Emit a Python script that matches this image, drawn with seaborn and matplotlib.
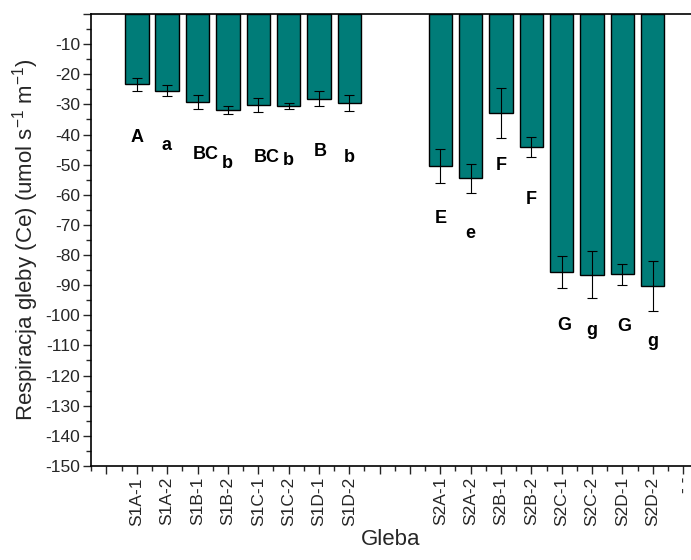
import numpy as np
import pandas as pd
import matplotlib
matplotlib.use("Agg")
import matplotlib.pyplot as plt
import seaborn as sns
from matplotlib.ticker import MultipleLocator

# Soil respiration per sample (negative = uptake), with standard deviations
samples = ["S1A-1", "S1A-2", "S1B-1", "S1B-2", "S1C-1", "S1C-2", "S1D-1", "S1D-2",
           "S2A-1", "S2A-2", "S2B-1", "S2B-2", "S2C-1", "S2C-2", "S2D-1", "S2D-2"]
respiration = [-23.4, -25.5, -29.3, -31.9, -30.2, -30.6, -28.1, -29.5,
               -50.4, -54.6, -33.0, -44.1, -85.6, -86.6, -86.4, -90.3]
std_dev = [2.0, 1.8, 2.3, 1.4, 2.4, 1.0, 2.5, 2.7,
           5.7, 4.7, 8.3, 3.4, 5.2, 7.8, 3.5, 8.4]
# slot on the category axis for every sample (gaps separate the two soils)
slots = [1, 2, 3, 4, 5, 6, 7, 8, 11, 12, 13, 14, 15, 16, 17, 18]

# full tick row of the category axis
tick_slots = list(range(20))
tick_labels = ["", "S1A-1", "S1A-2", "S1B-1", "S1B-2", "S1C-1", "S1C-2", "S1D-1", "S1D-2",
               "", "", "S2A-1", "S2A-2", "S2B-1", "S2B-2", "S2C-1", "S2C-2", "S2D-1", "S2D-2", "- -"]

# significance letters and where they sit
letters = ["A", "a", "BC", "b", "BC", "b", "B", "b",
           "E", "e", "F", "F", "G", "g", "G", "g"]
letter_x = [1.0, 1.99, 3.27, 3.97, 5.28, 5.98, 7.03, 7.99,
            11.0, 11.97, 13.0, 14.0, 15.07, 16.0, 17.05, 18.0]
letter_y = [-40.9, -43.5, -46.8, -49.5, -47.5, -48.5, -45.8, -47.5,
            -67.8, -72.8, -50.2, -61.5, -103.3, -105.0, -103.7, -108.6]

sns.set_style("ticks")
plt.rcParams["font.family"] = ["Liberation Sans", "DejaVu Sans"]
plt.rcParams["mathtext.fontset"] = "custom"
plt.rcParams["mathtext.rm"] = "Liberation Sans"
plt.rcParams["mathtext.it"] = "Liberation Sans:italic"
plt.rcParams["axes.unicode_minus"] = False

df = pd.DataFrame({"slot": slots, "sample": samples,
                   "resp": respiration, "sd": std_dev})

fig = plt.figure(figsize=(6.91, 5.6), dpi=100)
ax = fig.add_axes([0.1317, 0.168, 0.8683, 0.807])

sns.barplot(data=df, x="slot", y="resp", native_scale=True, width=0.77,
            color="#007C78", saturation=1, edgecolor="black", linewidth=1.0,
            errorbar=None, ax=ax)
ax.errorbar(df["slot"], df["resp"], yerr=df["sd"], fmt="none",
            ecolor="black", elinewidth=0.8, capsize=3.6, capthick=0.8)

for lab, lx, ly in zip(letters, letter_x, letter_y):
    ax.text(lx, ly, lab, ha="center", va="center", fontsize=13,
            fontweight="bold", color="black")

ax.set_xlim(-0.51, 19.26)
ax.set_ylim(-150, 0)

ax.set_xticks(tick_slots)
ax.set_xticklabels(tick_labels, rotation=90, fontsize=12.5)
ax.xaxis.set_minor_locator(MultipleLocator(0.5))

yt = np.arange(-150, 1, 10)
ax.set_yticks(yt)
ax.set_yticklabels([str(v) if v != 0 else "" for v in yt], fontsize=12.5)
ax.yaxis.set_minor_locator(MultipleLocator(5))

ax.tick_params(axis="both", which="major", length=6, width=1.0, direction="out", pad=2)
ax.tick_params(axis="both", which="minor", length=3.5, width=1.0, direction="out")

for side in ["left", "bottom", "top"]:
    ax.spines[side].set_linewidth(1.2)
    ax.spines[side].set_color("black")
ax.spines["right"].set_visible(False)
ax.spines["top"].set_visible(True)

ax.set_xlabel("Gleba", fontsize=16, labelpad=2)
ax.set_ylabel(r"Respiracja gleby (Ce) (umol s$^{-1}$ m$^{-1}$)", fontsize=16, labelpad=3)

fig.savefig("out.png", dpi=100)
